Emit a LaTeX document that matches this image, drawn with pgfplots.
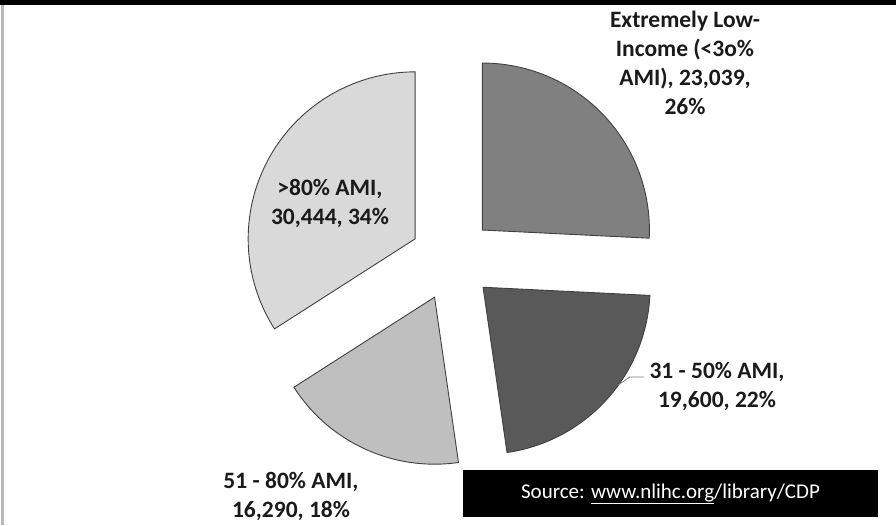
\documentclass[border=0pt]{standalone}
\usepackage{pgfplots}
\pgfplotsset{compat=1.18}
\usepackage{pgfplotstable}
\usepackage{fontspec}
\setmainfont{Carlito}
\definecolor{cA}{HTML}{808080}
\definecolor{cB}{HTML}{595959}
\definecolor{cC}{HTML}{BFBFBF}
\definecolor{cD}{HTML}{D9D9D9}
\definecolor{edge}{HTML}{404040}
\definecolor{txt}{HTML}{1A1A1A}
\pgfplotstableread{
label value
ELI 23039
L3150 19600
L5180 16290
G80 30444
}\piedata
\begin{document}
\begin{tikzpicture}
\pgfkeys{/pgf/fpu=true, /pgf/fpu/output format=fixed}
\pgfplotstablegetelem{0}{value}\of\piedata \pgfmathsetmacro{\vA}{\pgfplotsretval}
\pgfplotstablegetelem{1}{value}\of\piedata \pgfmathsetmacro{\vB}{\pgfplotsretval}
\pgfplotstablegetelem{2}{value}\of\piedata \pgfmathsetmacro{\vC}{\pgfplotsretval}
\pgfplotstablegetelem{3}{value}\of\piedata \pgfmathsetmacro{\vD}{\pgfplotsretval}
\pgfmathsetmacro{\tot}{\vA+\vB+\vC+\vD}
% angles, clockwise from 90 degrees
\pgfmathsetmacro{\sA}{90}
\pgfmathsetmacro{\eA}{\sA-360*\vA/\tot}
\pgfmathsetmacro{\eB}{\eA-360*\vB/\tot}
\pgfmathsetmacro{\eC}{\eB-360*\vC/\tot}
\pgfmathsetmacro{\eD}{\eC-360*\vD/\tot}
% exploded centres
\def\cx{452}\def\cy{266}\def\ex{42}\def\rr{167}
\pgfmathsetmacro{\mA}{(\sA+\eA)/2}\pgfmathsetmacro{\xA}{\cx+\ex*cos(\mA)}\pgfmathsetmacro{\yA}{\cy+\ex*sin(\mA)}
\pgfmathsetmacro{\mB}{(\eA+\eB)/2}\pgfmathsetmacro{\xB}{\cx+\ex*cos(\mB)}\pgfmathsetmacro{\yB}{\cy+\ex*sin(\mB)}
\pgfmathsetmacro{\mC}{(\eB+\eC)/2}\pgfmathsetmacro{\xC}{\cx+\ex*cos(\mC)}\pgfmathsetmacro{\yC}{\cy+\ex*sin(\mC)}
\pgfmathsetmacro{\mD}{(\eC+\eD)/2}\pgfmathsetmacro{\xD}{\cx+\ex*cos(\mD)}\pgfmathsetmacro{\yD}{\cy+\ex*sin(\mD)}
\pgfkeys{/pgf/fpu=false}
\begin{axis}[
  width=896pt, height=525pt, scale only axis,
  xmin=0, xmax=896, ymin=0, ymax=525,
  hide axis, clip=false,
]
\path (rel axis cs:0,0) rectangle (rel axis cs:1,1);
% frame
\fill[black] (axis cs:0,520) rectangle (axis cs:896,525);
\fill[gray!55] (axis cs:1,0) rectangle (axis cs:3.5,520);
% slices
\addplot[draw=edge, line width=0.9pt, fill=cA, domain=\eA:\sA, samples=80, variable=\t]
  ({\xA+\rr*cos(\t)}, {\yA+\rr*sin(\t)}) -- (axis cs:\xA,\yA) -- cycle;
\addplot[draw=edge, line width=0.9pt, fill=cB, domain=\eB:\eA, samples=80, variable=\t]
  ({\xB+\rr*cos(\t)}, {\yB+\rr*sin(\t)}) -- (axis cs:\xB,\yB) -- cycle;
\addplot[draw=edge, line width=0.9pt, fill=cC, domain=\eC:\eB, samples=80, variable=\t]
  ({\xC+\rr*cos(\t)}, {\yC+\rr*sin(\t)}) -- (axis cs:\xC,\yC) -- cycle;
\addplot[draw=edge, line width=0.9pt, fill=cD, domain=\eD:\eC, samples=80, variable=\t]
  ({\xD+\rr*cos(\t)}, {\yD+\rr*sin(\t)}) -- (axis cs:\xD,\yD) -- cycle;
% labels
\tikzset{lab/.style={font=\fontsize{23.5}{29}\selectfont\bfseries, text=txt, align=center, inner sep=0pt}}
\node[lab] at (axis cs:685,462) {Extremely Low-\\Income (<3o\%\\AMI), 23,039,\\26\%};
\node[lab] at (axis cs:330,322) {>80\% AMI,\\30,444, 34\%};
\node[lab] at (axis cs:291,29) {51 - 80\% AMI,\\16,290, 18\%};
\node[lab] at (axis cs:717,139) {31 - 50\% AMI,\\19,600, 22\%};
\draw[gray, line width=0.8pt] (axis cs:618,140) -- (axis cs:630,148) -- (axis cs:644,148);
% source box
\fill[black] (axis cs:463,8) rectangle (axis cs:878,55);
\node[text=white, font=\fontsize{21}{24}\selectfont, inner sep=0pt] at (axis cs:670.5,31)
  {Source: \underline{www.nlihc.org}/library/CDP};
\end{axis}
\end{tikzpicture}
\end{document}
